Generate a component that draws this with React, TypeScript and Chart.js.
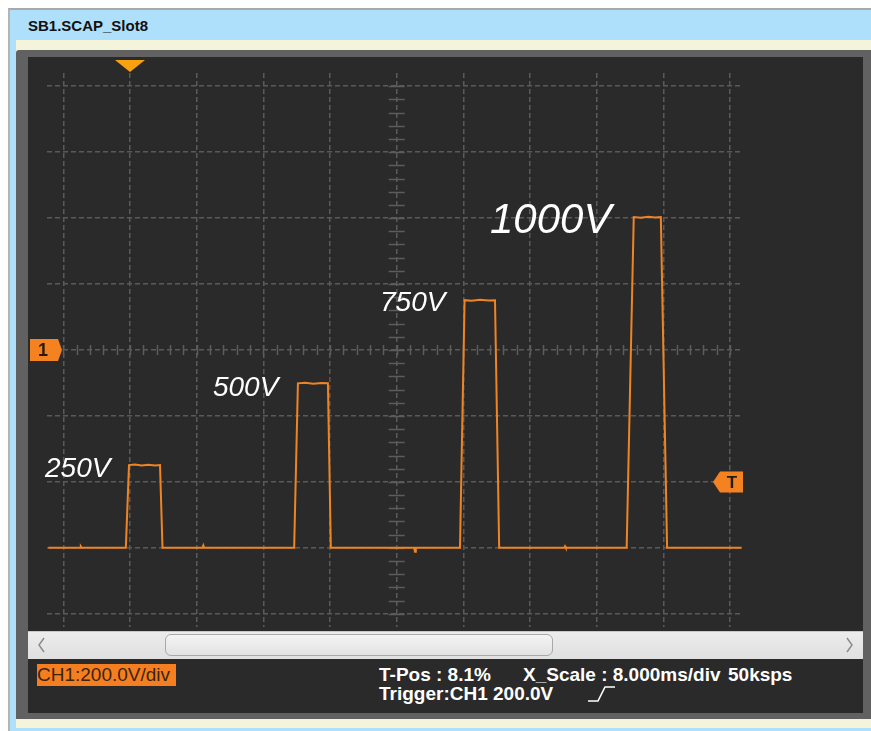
import React, { useEffect, useRef } from "react";
import { Chart, registerables } from "chart.js";

Chart.register(...registerables);

// ---- data (time in ms relative to trigger, volts relative to ground) ----
const traceTimeMs = [
  -9.8, -6.0, -5.9, -5.8, -0.5, -0.12, 0.6, 1.4, 2.2, 3.0, 3.6, 3.9,
  8.7, 8.8, 8.9, 19.7, 20.15, 21.0, 22.0, 23.0, 23.75, 24.1,
  34.1, 34.2, 34.3, 39.6, 40.15, 41.0, 42.0, 43.0, 43.8, 44.3,
  52.1, 52.2, 52.3, 59.6, 60.45, 61.3, 62.2, 63.0, 63.7, 64.45, 73.4,
];
const traceVolts = [
  0, 0, 4, 0, 0, 251, 253, 250, 252, 250, 251, 0,
  0, 7, 0, 0, 499, 501, 498, 500, 499, 0,
  0, -12, 0, 0, 751, 749, 752, 750, 751, 0,
  0, 5, 0, 0, 1003, 1001, 1004, 1002, 1003, 0, 0,
];

const gridTimeTicksMs = [-8, 0, 8, 16, 24, 32, 40, 48, 56, 64, 72];
const gridVoltTicks = [-200, 0, 200, 400, 600, 800, 1000, 1200, 1400];

const labelTexts = ["250V", "500V", "750V", "1000V"];
const labelTimeMs = [-10.2, 9.95, 30.0, 43.2];
const labelVolts = [215, 460, 718, 955];
const labelFontPx = [28, 28, 28, 42];

const triggerTimeMs = 0;
const triggerLevelV = 200;
const ch1MarkerV = 600;
const centerTimeMs = 32;

const FONT = '"Liberation Sans", Arial, sans-serif';

const scopePlugin = {
  id: "scopeDecor",
  beforeDatasetsDraw(chart: any) {
    const { ctx, scales } = chart;
    const x = scales.x;
    const y = scales.y;
    const cx = x.getPixelForValue(centerTimeMs);
    const cy = y.getPixelForValue(ch1MarkerV);
    ctx.save();
    ctx.strokeStyle = "#5c5c5c";
    ctx.lineWidth = 1.5;
    for (let i = 0; i <= 50; i++) {
      const t = gridTimeTicksMs[0] + (i * (gridTimeTicksMs[10] - gridTimeTicksMs[0])) / 50;
      const px = Math.round(x.getPixelForValue(t)) + 0.5;
      ctx.beginPath();
      ctx.moveTo(px, cy - 5);
      ctx.lineTo(px, cy + 5);
      ctx.stroke();
    }
    for (let i = 0; i <= 40; i++) {
      const v = gridVoltTicks[0] + (i * (gridVoltTicks[8] - gridVoltTicks[0])) / 40;
      const py = Math.round(y.getPixelForValue(v)) + 0.5;
      ctx.beginPath();
      ctx.moveTo(cx - 8, py);
      ctx.lineTo(cx + 8, py);
      ctx.stroke();
    }
    ctx.restore();
  },
  afterDraw(chart: any) {
    const { ctx, scales, chartArea } = chart;
    const x = scales.x;
    const y = scales.y;
    ctx.save();
    // trigger position triangle at top
    const tx = x.getPixelForValue(triggerTimeMs);
    ctx.fillStyle = "#f8a210";
    ctx.beginPath();
    ctx.moveTo(tx - 15, chartArea.top - 13);
    ctx.lineTo(tx + 15, chartArea.top - 13);
    ctx.lineTo(tx, chartArea.top - 1);
    ctx.closePath();
    ctx.fill();

    // channel 1 marker (left)
    const cy = y.getPixelForValue(ch1MarkerV);
    const l = chartArea.left;
    ctx.fillStyle = "#f58220";
    ctx.beginPath();
    ctx.moveTo(l - 17, cy - 11);
    ctx.lineTo(l + 11, cy - 11);
    ctx.lineTo(l + 15, cy);
    ctx.lineTo(l + 11, cy + 11);
    ctx.lineTo(l - 17, cy + 11);
    ctx.closePath();
    ctx.fill();
    ctx.fillStyle = "#2a1a0a";
    ctx.font = `bold 18px ${FONT}`;
    ctx.textAlign = "center";
    ctx.textBaseline = "middle";
    ctx.fillText("1", l - 4, cy + 1);

    // trigger level marker (right)
    const ty = y.getPixelForValue(triggerLevelV);
    const r = chartArea.right;
    ctx.fillStyle = "#f58220";
    ctx.beginPath();
    ctx.moveTo(r - 29, ty);
    ctx.lineTo(r - 22, ty - 10.5);
    ctx.lineTo(r + 1, ty - 10.5);
    ctx.lineTo(r + 1, ty + 10.5);
    ctx.lineTo(r - 22, ty + 10.5);
    ctx.closePath();
    ctx.fill();
    ctx.fillStyle = "#1e1e10";
    ctx.font = `bold 17px ${FONT}`;
    ctx.fillText("T", r - 10, ty + 1);

    // voltage annotations
    ctx.fillStyle = "#ffffff";
    ctx.textAlign = "left";
    ctx.textBaseline = "alphabetic";
    for (let i = 0; i < labelTexts.length; i++) {
      ctx.font = `italic ${labelFontPx[i]}px ${FONT}`;
      ctx.fillText(labelTexts[i], x.getPixelForValue(labelTimeMs[i]), y.getPixelForValue(labelVolts[i]));
    }
    ctx.restore();
  },
};

function ScopeCanvas() {
  const ref = useRef<HTMLCanvasElement | null>(null);
  useEffect(() => {
    if (!ref.current) return;
    const chart = new Chart(ref.current, {
      type: "line",
      data: {
        datasets: [
          {
            data: traceTimeMs.map((t, i) => ({ x: t, y: traceVolts[i] })),
            borderColor: "#f08424",
            borderWidth: 2,
            pointRadius: 0,
            tension: 0,
            fill: false,
          },
        ],
      },
      options: {
        animation: false,
        responsive: false,
        events: [],
        layout: { padding: { left: 19, right: 121, top: 16, bottom: 4 } },
        plugins: { legend: { display: false }, tooltip: { enabled: false }, title: { display: false } },
        scales: {
          x: {
            type: "linear",
            min: -9.96,
            max: 73.44,
            afterBuildTicks: (s: any) => {
              s.ticks = gridTimeTicksMs.map((v) => ({ value: v }));
            },
            ticks: { display: false },
            grid: { color: "#5a5a5a", lineWidth: 1.5, drawTicks: false },
            border: { display: false, dash: [5, 3] },
          },
          y: {
            type: "linear",
            min: -240,
            max: 1440,
            afterBuildTicks: (s: any) => {
              s.ticks = gridVoltTicks.map((v) => ({ value: v }));
            },
            ticks: { display: false },
            grid: { color: "#5a5a5a", lineWidth: 1.5, drawTicks: false },
            border: { display: false, dash: [5, 3] },
          },
        },
      },
      plugins: [scopePlugin],
    } as any);
    return () => chart.destroy();
  }, []);
  return (
    <canvas
      ref={ref}
      width={835}
      height={574}
      style={{ position: "absolute", left: 28, top: 57, width: 835, height: 574 }}
    />
  );
}

const abs = (o: React.CSSProperties): React.CSSProperties => ({ position: "absolute", ...o });

const statusText: React.CSSProperties = {
  color: "#fff",
  fontWeight: "bold",
  fontSize: 19,
  lineHeight: "20px",
  whiteSpace: "pre",
};

export default function App() {
  return (
    <div style={abs({ left: 0, top: 0, width: 871, height: 731, overflow: "hidden", background: "#ffffff", fontFamily: FONT })}>
      {/* window */}
      <div style={abs({ left: 8, top: 8, width: 880, height: 740, background: "#afe0fb", borderTop: "2px solid #a8a8a8", borderLeft: "2px solid #b4b4b4" })} />
      <div style={abs({ left: 28, top: 16, fontWeight: "bold", fontSize: 15, color: "#111", lineHeight: "20px" })}>SB1.SCAP_Slot8</div>
      {/* cream panel */}
      <div style={abs({ left: 16, top: 40, width: 880, height: 688, background: "#f4f4dc" })} />
      {/* gray bevel */}
      <div style={abs({ left: 16, top: 50, width: 855, height: 669, background: "#616161", borderTopLeftRadius: 3 })} />
      {/* dark panel */}
      <div style={abs({ left: 28, top: 57, width: 835, height: 656, background: "#2a2a2a" })} />
      <ScopeCanvas />
      {/* scrollbar */}
      <div style={abs({ left: 28, top: 631, width: 835, height: 28, background: "linear-gradient(#ececec, #e0e0e0)", borderTop: "1px solid #c8c8c8", boxSizing: "border-box" })} />
      <div style={abs({ left: 165, top: 634, width: 388, height: 22, borderRadius: 6, background: "linear-gradient(#f4f4f4, #e2e2e2)", border: "1px solid #a9a9a9", boxSizing: "border-box" })} />
      <svg style={abs({ left: 28, top: 631 })} width={835} height={28}>
        <polyline points="16,7 11,14 16,21" fill="none" stroke="#8c8c8c" strokeWidth={1.5} />
        <polyline points="819,7 824,14 819,21" fill="none" stroke="#8c8c8c" strokeWidth={1.5} />
      </svg>
      {/* status */}
      <div style={abs({ left: 37, top: 664, width: 139, height: 22, background: "#f57f20", color: "#3a2410", fontSize: 19, lineHeight: "22px", whiteSpace: "nowrap", overflow: "hidden" })}>
        CH1:200.0V/div
      </div>
      <div style={abs({ left: 379, top: 665, ...statusText })}>T-Pos : 8.1%</div>
      <div style={abs({ left: 523, top: 665, ...statusText })}>X_Scale : 8.000ms/div</div>
      <div style={abs({ left: 728, top: 665, ...statusText })}>50ksps</div>
      <div style={abs({ left: 379, top: 684, ...statusText })}>Trigger:CH1 200.0V</div>
      <svg style={abs({ left: 586, top: 684 })} width={32} height={20}>
        <polyline points="2,17 12,17 19,3 29,3" fill="none" stroke="#ffffff" strokeWidth={1.6} />
      </svg>
    </div>
  );
}
